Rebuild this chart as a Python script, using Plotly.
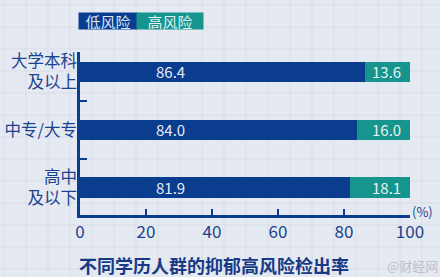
import plotly.graph_objects as go

categories = ["大学本科<br>及以上", "中专/大专", "高中<br>及以下"]
low_risk = [86.4, 84.0, 81.9]
high_risk = [13.6, 16.0, 18.1]
x_ticks = [0, 20, 40, 60, 80, 100]
title_text = "不同学历人群的抑郁高风险检出率"
legend_names = ["低风险", "高风险"]

BLUE = "#0b3d8f"
TEAL = "#16948e"
TXT = "#1b438f"
BG = "#e5e9f1"
FONT = "Noto Sans CJK SC"

fig = go.Figure()
fig.add_trace(go.Bar(
    y=categories, x=low_risk, orientation="h", name=legend_names[0],
    marker=dict(color=BLUE, line=dict(width=0)), width=0.35,
    hoverinfo="x",
))
fig.add_trace(go.Bar(
    y=categories, x=high_risk, orientation="h", name=legend_names[1],
    marker=dict(color=TEAL, line=dict(width=0)), width=0.35,
    hoverinfo="x",
))

annotations = []
for c, v in zip(categories, low_risk):
    annotations.append(dict(
        x=27.3, y=c, xref="x", yref="y", text=f"{v:.1f}", showarrow=False,
        font=dict(family=FONT, size=15, color="#e6ecf7"),
        xanchor="center", yanchor="middle",
    ))
for c, v in zip(categories, high_risk):
    annotations.append(dict(
        x=100, y=c, xref="x", yref="y", text=f"{v:.1f}", showarrow=False,
        font=dict(family=FONT, size=15, color="#e9f2f2"),
        xanchor="right", yanchor="middle", xshift=-7,
    ))

# legend boxes
annotations.append(dict(
    x=0.0848, y=1.19, xref="paper", yref="paper", text=legend_names[0],
    showarrow=False, bgcolor=BLUE, width=58, height=16, borderpad=0,
    font=dict(family=FONT, size=15, color="#dfe7f5"),
    xanchor="center", yanchor="middle",
))
annotations.append(dict(
    x=0.2727, y=1.19, xref="paper", yref="paper", text=legend_names[1],
    showarrow=False, bgcolor=TEAL, width=66, height=16, borderpad=0,
    font=dict(family=FONT, size=15, color="#e2f2f0"),
    xanchor="center", yanchor="middle",
))
# unit
annotations.append(dict(
    x=1.039, y=0.02, xref="paper", yref="paper", text="(%)", showarrow=False,
    font=dict(family=FONT, size=13, color=TXT), xanchor="center", yanchor="middle",
))
# title
annotations.append(dict(
    x=0.406, y=-0.307, xref="paper", yref="paper", text=f"<b>{title_text}</b>",
    showarrow=False, font=dict(family=FONT, size=18, color="#183a86"),
    xanchor="center", yanchor="middle",
))
# watermark
annotations.append(dict(
    x=1.09, y=-0.307, xref="paper", yref="paper", text="@财经网",
    showarrow=False, font=dict(family=FONT, size=13, color="#bcc1ca"),
    xanchor="right", yanchor="middle",
))

# faint graph-paper background
shapes = []
step = 22
for i in range(0, 21):
    px = 4 + i * step
    shapes.append(dict(type="line", xref="paper", yref="paper",
                       x0=(px - 80) / 330, x1=(px - 80) / 330, y0=-1, y1=2,
                       line=dict(color="#d8dde7", width=1), layer="below"))
for j in range(0, 14):
    py = 5 + j * step
    yy = (215 - py) / 163
    shapes.append(dict(type="line", xref="paper", yref="paper",
                       x0=-1, x1=2, y0=yy, y1=yy,
                       line=dict(color="#d8dde7", width=1), layer="below"))

fig.update_layout(
    barmode="stack",
    width=440, height=277,
    margin=dict(l=80, r=30, t=52, b=62),
    paper_bgcolor=BG, plot_bgcolor="rgba(0,0,0,0)",
    showlegend=False,
    annotations=annotations,
    shapes=shapes,
    bargap=0,
    xaxis=dict(
        range=[0, 100], tickvals=x_ticks, ticks="inside", ticklen=6,
        tickwidth=2, tickcolor=BLUE, showline=True, linecolor=BLUE, linewidth=2.5,
        showgrid=False, zeroline=False, automargin=False,
        tickfont=dict(family=FONT, size=17, color=TXT),
    ),
    yaxis=dict(
        type="category", categoryorder="array", categoryarray=categories,
        range=[2.476, -0.346], ticks="inside", ticklen=7, tickwidth=2,
        tickcolor=BLUE, tickson="boundaries", showline=True, linecolor=BLUE,
        linewidth=2.5, showgrid=False, zeroline=False, automargin=False,
        ticklabelstandoff=-3,
        tickfont=dict(family=FONT, size=16.5, color=TXT),
    ),
)

fig.write_html("out.html")
